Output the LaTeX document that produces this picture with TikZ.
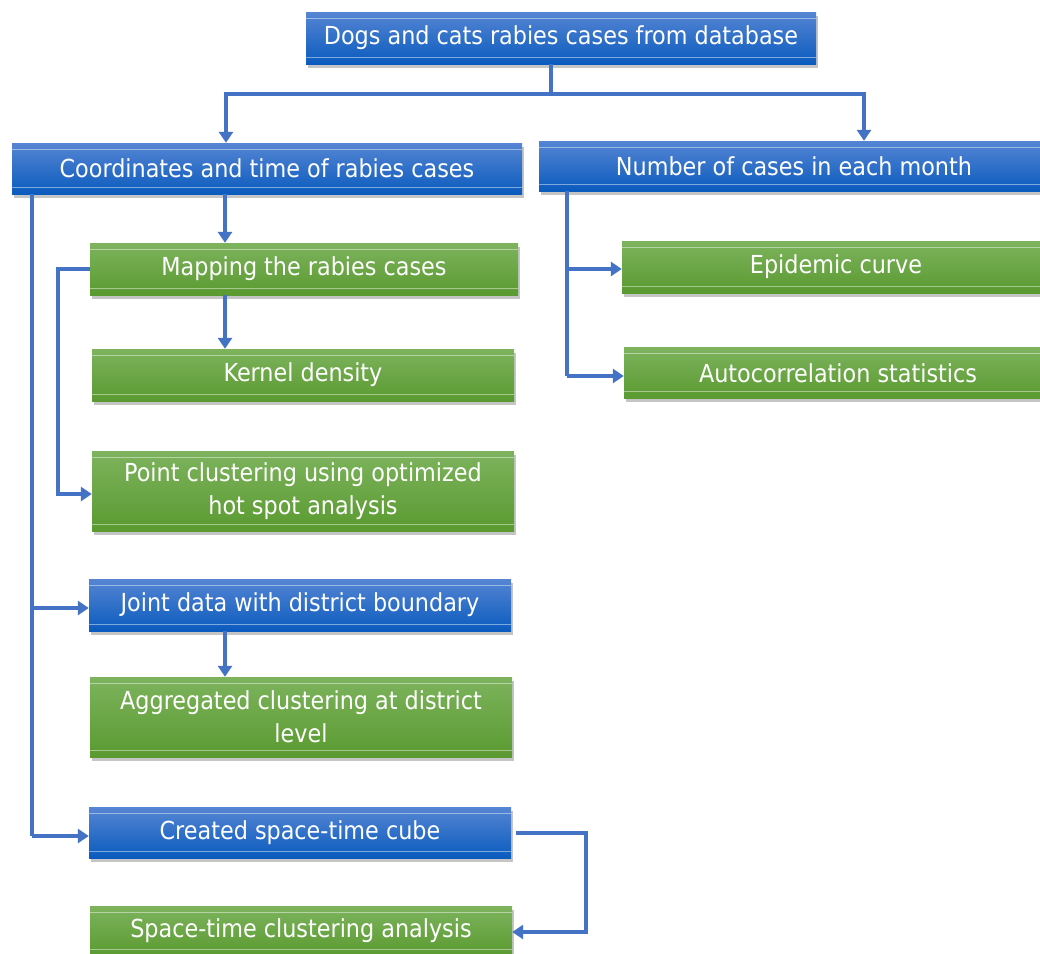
\documentclass[tikz,border=0pt]{standalone}
\usepackage{fontspec}
\setmainfont{DejaVu Sans Condensed}
\usetikzlibrary{calc,shadows,arrows.meta}
\definecolor{bluetop}{HTML}{5585D3}
\definecolor{bluebot}{HTML}{0A5BBE}
\definecolor{greentop}{HTML}{7DB35D}
\definecolor{greenbot}{HTML}{5A9A30}
\definecolor{conn}{HTML}{4472C4}
\tikzset{
  basebox/.style={rectangle, inner sep=0pt, text=white, align=center,
    font=\fontsize{24.8}{33}\selectfont,
    drop shadow={opacity=0.45, shadow xshift=2pt, shadow yshift=-3.5pt},
    path picture={
      \draw[white,opacity=0.45,line width=0.8pt]
        ([yshift=-6pt]path picture bounding box.north west) -- ([yshift=-6pt]path picture bounding box.north east);
      \draw[white,opacity=0.45,line width=0.8pt]
        ([yshift=7pt]path picture bounding box.south west) -- ([yshift=7pt]path picture bounding box.south east);
    }},
  bluebox/.style={basebox, top color=bluetop, bottom color=bluebot},
  greenbox/.style={basebox, top color=greentop, bottom color=greenbot},
  link/.style={draw=conn, line width=4pt},
  arr/.style={link, -{Triangle[width=14pt,length=11pt]}}
}
\begin{document}
\begin{tikzpicture}[x=1pt,y=-1pt]
\useasboundingbox[fill=white] (0,0) rectangle (1040,953);
% boxes
\node[bluebox, minimum width=510pt, minimum height=52pt] (top) at (561,38) {Dogs and cats rabies cases from database};
\node[bluebox, minimum width=510pt, minimum height=51pt] (coord) at (267,168.5) {Coordinates and time of rabies cases};
\node[bluebox, minimum width=510pt, minimum height=50pt] (num) at (794,166) {Number of cases in each month};
\node[greenbox, minimum width=428pt, minimum height=52pt] (map) at (304,269) {Mapping the rabies cases};
\node[greenbox, minimum width=422pt, minimum height=52pt] (kern) at (303,375) {Kernel density};
\node[greenbox, minimum width=422pt, minimum height=80pt] (point) at (303,491) {Point clustering using optimized\\hot spot analysis};
\node[bluebox, minimum width=422pt, minimum height=52pt] (joint) at (300,605) {Joint data with district boundary};
\node[greenbox, minimum width=422pt, minimum height=80pt] (agg) at (301,717) {Aggregated clustering at district\\level};
\node[bluebox, minimum width=422pt, minimum height=51pt] (cube) at (300,832.5) {Created space-time cube};
\node[greenbox, minimum width=422pt, minimum height=50pt] (stc) at (301,931) {Space-time clustering analysis};
\node[greenbox, minimum width=428pt, minimum height=52pt] (epi) at (836,267) {Epidemic curve};
\node[greenbox, minimum width=428pt, minimum height=51pt] (auto) at (838,373) {Autocorrelation statistics};
% connectors
\coordinate (j1) at (551,94);
\coordinate (tl) at (32,836);
\coordinate (ml) at (58,494);
\coordinate (nr) at (567,376);
\coordinate (cr) at (586,932);
\draw[link] (top.south -| j1) -- (j1);
\draw[arr] (j1) -| (226,0 |- coord.north);
\draw[arr] (j1) -| (864,0 |- num.north);
\draw[arr] (225,0 |- coord.south) -- (225,0 |- map.north);
\draw[arr] (225,0 |- map.south) -- (225,0 |- kern.north);
\draw[arr] (225,0 |- joint.south) -- (225,0 |- agg.north);
\draw[link] (32,0 |- coord.south) -- (tl);
\draw[arr] (32,608) -- (joint.west |- 0,608);
\draw[arr] (tl) -- (cube.west |- tl);
\draw[arr] (map.west) -| (ml) -- (point.west |- ml);
\draw[link] (567,0 |- num.south) -- (nr);
\draw[arr] (567,269) -- (epi.west |- 0,269);
\draw[arr] (nr) -- (auto.west |- nr);
\draw[arr] ([xshift=5pt]cube.east) -| (cr) -- (stc.east |- cr);
\end{tikzpicture}
\end{document}
